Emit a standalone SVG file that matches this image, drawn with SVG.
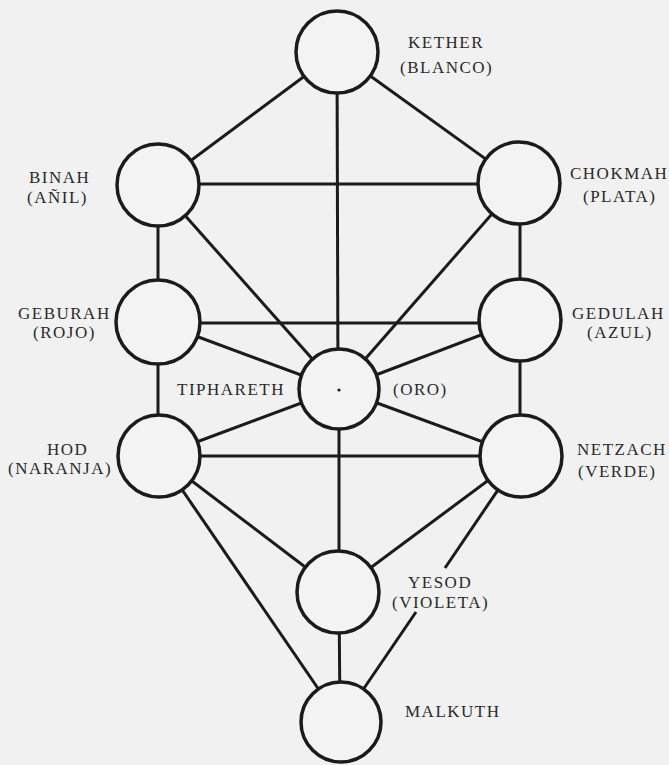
<svg xmlns="http://www.w3.org/2000/svg" width="669" height="765" viewBox="0 0 669 765">
  <style>
    .bg { fill: #f1f1f1; }
    .edge { stroke: #1b1b1b; stroke-width: 3; fill: none; stroke-linecap: butt; }
    .node { fill: #f3f3f3; stroke: #1b1b1b; stroke-width: 3.5; }
    .lbl { font-family: "Liberation Serif", "Times New Roman", serif; font-size: 17px; letter-spacing: 1.5px; fill: #2a2a2a; }
  </style>
  <rect class="bg" x="0" y="0" width="669" height="765"/>

  <g id="connectors">
    <!-- Kether -->
    <line class="edge" x1="337" y1="52" x2="158" y2="185"/>
    <line class="edge" x1="337" y1="52" x2="519" y2="183"/>
    <line class="edge" x1="337" y1="52" x2="338" y2="389"/>
    <!-- Binah / Chokmah -->
    <line class="edge" x1="158" y1="184" x2="519" y2="184"/>
    <line class="edge" x1="158" y1="185" x2="158" y2="322"/>
    <line class="edge" x1="520" y1="183" x2="520" y2="320"/>
    <line class="edge" x1="158" y1="185" x2="339" y2="389"/>
    <line class="edge" x1="519" y1="183" x2="339" y2="389"/>
    <!-- Geburah / Gedulah -->
    <line class="edge" x1="158" y1="323" x2="520" y2="323"/>
    <line class="edge" x1="158" y1="322" x2="339" y2="389"/>
    <line class="edge" x1="520" y1="320" x2="339" y2="389"/>
    <line class="edge" x1="158" y1="322" x2="158" y2="456"/>
    <line class="edge" x1="520" y1="320" x2="520" y2="456"/>
    <!-- Hod / Netzach -->
    <line class="edge" x1="159" y1="456" x2="339" y2="389"/>
    <line class="edge" x1="521" y1="456" x2="339" y2="389"/>
    <line class="edge" x1="159" y1="456" x2="521" y2="456"/>
    <line class="edge" x1="339" y1="389" x2="339" y2="592"/>
    <line class="edge" x1="159" y1="456" x2="338" y2="592"/>
    <line class="edge" x1="521" y1="456" x2="338" y2="592"/>
    <line class="edge" x1="159" y1="456" x2="341" y2="722"/>
    <path class="edge" d="M521,456 L445,568 M416,612 L341,722"/>
    <line class="edge" x1="339" y1="592" x2="340" y2="722"/>
  </g>

  <g id="kether">
    <circle class="node" cx="337" cy="52" r="41"/>
    <text class="lbl" x="408" y="48">KETHER</text>
    <text class="lbl" x="400" y="73">(BLANCO)</text>
  </g>
  <g id="binah">
    <circle class="node" cx="158" cy="185" r="41"/>
    <text class="lbl" x="29" y="183">BINAH</text>
    <text class="lbl" x="27" y="203">(AÑIL)</text>
  </g>
  <g id="chokmah">
    <circle class="node" cx="519" cy="183" r="41"/>
    <text class="lbl" x="570" y="179">CHOKMAH</text>
    <text class="lbl" x="583" y="202">(PLATA)</text>
  </g>
  <g id="geburah">
    <circle class="node" cx="158" cy="322" r="42"/>
    <text class="lbl" x="18" y="319">GEBURAH</text>
    <text class="lbl" x="33" y="338">(ROJO)</text>
  </g>
  <g id="gedulah">
    <circle class="node" cx="520" cy="320" r="41"/>
    <text class="lbl" x="572" y="319">GEDULAH</text>
    <text class="lbl" x="587" y="338">(AZUL)</text>
  </g>
  <g id="tiphareth">
    <circle class="node" cx="339" cy="389" r="40"/>
    <circle cx="339" cy="390" r="1.6" fill="#1b1b1b"/>
    <text class="lbl" x="285" y="395" text-anchor="end">TIPHARETH</text>
    <text class="lbl" x="393" y="395">(ORO)</text>
  </g>
  <g id="hod">
    <circle class="node" cx="159" cy="456" r="41"/>
    <text class="lbl" x="47" y="455">HOD</text>
    <text class="lbl" x="8" y="474">(NARANJA)</text>
  </g>
  <g id="netzach">
    <circle class="node" cx="521" cy="456" r="41"/>
    <text class="lbl" x="577" y="455">NETZACH</text>
    <text class="lbl" x="578" y="477">(VERDE)</text>
  </g>
  <g id="yesod">
    <circle class="node" cx="338" cy="592" r="41"/>
    <text class="lbl" x="408" y="588">YESOD</text>
    <text class="lbl" x="392" y="608">(VIOLETA)</text>
  </g>
  <g id="malkuth">
    <circle class="node" cx="341" cy="722" r="40"/>
    <text class="lbl" x="405" y="717">MALKUTH</text>
  </g>
</svg>
